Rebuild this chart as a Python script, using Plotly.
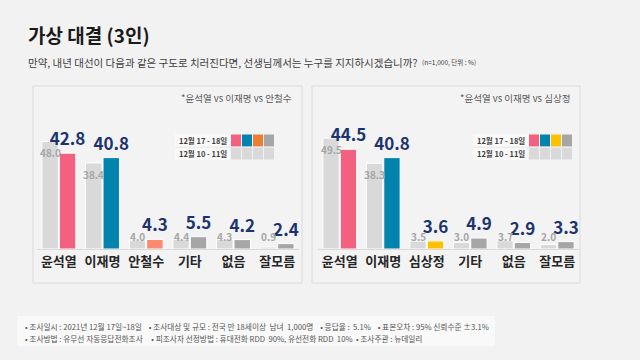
import plotly.graph_objects as go

# ---- data ----
categories_a = ["윤석열", "이재명", "안철수", "기타", "없음", "잘모름"]
prev_a = [48.0, 38.4, 4.0, 4.4, 4.3, 0.9]
curr_a = [42.8, 40.8, 4.3, 5.5, 4.2, 2.4]

categories_b = ["윤석열", "이재명", "심상정", "기타", "없음", "잘모름"]
prev_b = [49.5, 38.3, 3.5, 3.0, 3.7, 2.0]
curr_b = [44.5, 40.8, 3.6, 4.9, 2.9, 3.3]

period_labels = ["12월 17 - 18일", "12월 10 - 11일"]
matchup_a = "*윤석열 vs 이재명 vs 안철수"
matchup_b = "*윤석열 vs 이재명 vs 심상정"

# ---- style ----
FONT = "Noto Sans CJK KR"
BG = "#f2f2f2"
PREV = "#d9d9d9"
NAVY = "#1c3370"
colors_a = ["#f4607f", "#0083ad", "#fb8a6e", "#a6a6a6", "#a6a6a6", "#a6a6a6"]
colors_b = ["#f4607f", "#0083ad", "#ffc000", "#a6a6a6", "#a6a6a6", "#a6a6a6"]
legend_a = ["#f4607f", "#0083ad", "#ed7d31", "#a6a6a6"]
legend_b = ["#f4607f", "#0083ad", "#ffc000", "#a6a6a6"]

W, H = 640, 360
def px(x):
    return x / W
def py(y):
    return 1 - y / H

fig = go.Figure()
annotations = []
shapes = []

def add_panel(cats, prev, curr, colors, xa, ya):
    fig.add_trace(go.Bar(x=cats, y=prev, marker=dict(color=PREV, line=dict(color="#ffffff", width=1)),
                         xaxis=xa, yaxis=ya, hoverinfo="skip", showlegend=False))
    fig.add_trace(go.Bar(x=cats, y=curr, marker=dict(color=colors, line=dict(color="#ffffff", width=1)),
                         text=[f"{v:.1f}" for v in curr], textposition="outside",
                         constraintext="none", cliponaxis=False,
                         textfont=dict(family=FONT, size=17, color=NAVY, weight="bold"),
                         xaxis=xa, yaxis=ya, hoverinfo="skip", showlegend=False))

add_panel(categories_a, prev_a, curr_a, colors_a, "x", "y")
add_panel(categories_b, prev_b, curr_b, colors_b, "x2", "y2")

# gray previous-value labels
def prev_labels(cats, prev, xref, yref):
    for c, v in zip(cats, prev):
        if v > 10:
            annotations.append(dict(x=c, y=v, xref=xref, yref=yref, text=f"{v:.1f}", showarrow=False,
                                    xshift=-8.6, yanchor="top", yshift=-2,
                                    font=dict(family=FONT, size=10, color="#a6a6a6", weight="bold")))
        else:
            annotations.append(dict(x=c, y=0, xref=xref, yref=yref, text=f"{v:.1f}", showarrow=False,
                                    xshift=-8.6, yanchor="bottom", yshift=3,
                                    font=dict(family=FONT, size=10, color="#a6a6a6", weight="bold")))

prev_labels(categories_a, prev_a, "x", "y")
prev_labels(categories_b, prev_b, "x2", "y2")

ydom = [py(249), py(137)]
axis_common = dict(showgrid=False, zeroline=False, showline=True, linecolor="#d9d9d9", linewidth=1,
                   ticks="", tickfont=dict(family=FONT, size=13, color="#262626", weight="bold"),
                   fixedrange=True)
yaxis_common = dict(range=[0, 50], showgrid=False, zeroline=False, showticklabels=False,
                    showline=False, fixedrange=True)

# panels
for x0, x1 in [(33, 302), (312, 580)]:
    shapes.append(dict(type="rect", xref="paper", yref="paper", x0=px(x0), x1=px(x1), y0=py(283), y1=py(86),
                       line=dict(color="#dadada", width=1), fillcolor="#f3f3f3", layer="below"))
# footer box
shapes.append(dict(type="rect", xref="paper", yref="paper", x0=px(17), x1=px(495), y0=py(346), y1=py(316),
                   line=dict(width=0), fillcolor="#f9f9f9", layer="below"))

# legend tables
def legend_table(x_left, sw_left, cols):
    for r, (y0, y1) in enumerate([(134, 147), (147.5, 160)]):
        shapes.append(dict(type="rect", xref="paper", yref="paper", x0=px(x_left), x1=px(sw_left - 1),
                           y0=py(y1), y1=py(y0), line=dict(width=0), fillcolor="#f9f9f9"))
        for i in range(4):
            xs = sw_left + i * 11
            shapes.append(dict(type="rect", xref="paper", yref="paper", x0=px(xs), x1=px(xs + 10),
                               y0=py(y1 - 0.5), y1=py(y0 + 0.5), line=dict(width=0),
                               fillcolor=cols[i] if r == 0 else PREV))
        annotations.append(dict(xref="paper", yref="paper", x=px((x_left + sw_left - 1) / 2),
                                y=py((y0 + y1) / 2), text=period_labels[r], showarrow=False,
                                xanchor="center", yanchor="middle",
                                font=dict(family=FONT, size=7.5, color="#404040", weight="bold")))
    shapes.append(dict(type="line", xref="paper", yref="paper", x0=px(x_left), x1=px(sw_left + 43),
                       y0=py(147.2), y1=py(147.2), line=dict(color="#e6e6e6", width=1)))

legend_table(175, 231, legend_a)
legend_table(473, 529, legend_b)

annotations += [
    dict(xref="paper", yref="paper", x=px(26), y=py(34), text="<b>가상 대결 (3인)</b>", showarrow=False,
         xanchor="left", yanchor="middle", font=dict(family=FONT, size=19, color="#1a1a1a")),
    dict(xref="paper", yref="paper", x=px(26), y=py(62),
         text="만약, 내년 대선이 다음과 같은 구도로 치러진다면, 선생님께서는 누구를 지지하시겠습니까?",
         showarrow=False, xanchor="left", yanchor="middle", font=dict(family=FONT, size=10.5, color="#404040")),
    dict(xref="paper", yref="paper", x=px(420), y=py(62), text="(n=1,000, 단위 : %)", showarrow=False,
         xanchor="left", yanchor="middle", font=dict(family=FONT, size=6.5, color="#404040")),
    dict(xref="paper", yref="paper", x=px(294), y=py(98), text=matchup_a, showarrow=False,
         xanchor="right", yanchor="middle", font=dict(family=FONT, size=9.5, color="#595959")),
    dict(xref="paper", yref="paper", x=px(572), y=py(98), text=matchup_b, showarrow=False,
         xanchor="right", yanchor="middle", font=dict(family=FONT, size=9.5, color="#595959")),
    dict(xref="paper", yref="paper", x=px(23), y=py(326),
         text="• 조사일시 : 2021년 12월 17일~18일    • 조사대상 및 규모 : 전국 만 18세이상  남녀  1,000명    • 응답율 :  5.1%    • 표본오차 : 95% 신뢰수준 ±3.1%",
         showarrow=False, xanchor="left", yanchor="middle", font=dict(family=FONT, size=7.7, color="#555555")),
    dict(xref="paper", yref="paper", x=px(23), y=py(338),
         text="• 조사방법 : 유무선 자동응답전화조사     • 피조사자 선정방법 : 휴대전화 RDD  90%, 유선전화 RDD  10%  • 조사주관 : 뉴데일리",
         showarrow=False, xanchor="left", yanchor="middle", font=dict(family=FONT, size=7.7, color="#555555")),
]

fig.update_layout(
    width=W, height=H, margin=dict(l=0, r=0, t=0, b=0),
    paper_bgcolor=BG, plot_bgcolor="rgba(0,0,0,0)",
    barmode="group", bargap=0.2, bargroupgap=0.06,
    font=dict(family=FONT),
    xaxis=dict(domain=[px(37), px(299)], anchor="y", **axis_common),
    yaxis=dict(domain=ydom, anchor="x", **yaxis_common),
    xaxis2=dict(domain=[px(318), px(579)], anchor="y2", **axis_common),
    yaxis2=dict(domain=ydom, anchor="x2", **yaxis_common),
    shapes=shapes, annotations=annotations, showlegend=False,
)

fig.write_html("out.html", config={"displayModeBar": False},
               post_script="document.body.style.margin='0';document.body.style.overflow='hidden';")
